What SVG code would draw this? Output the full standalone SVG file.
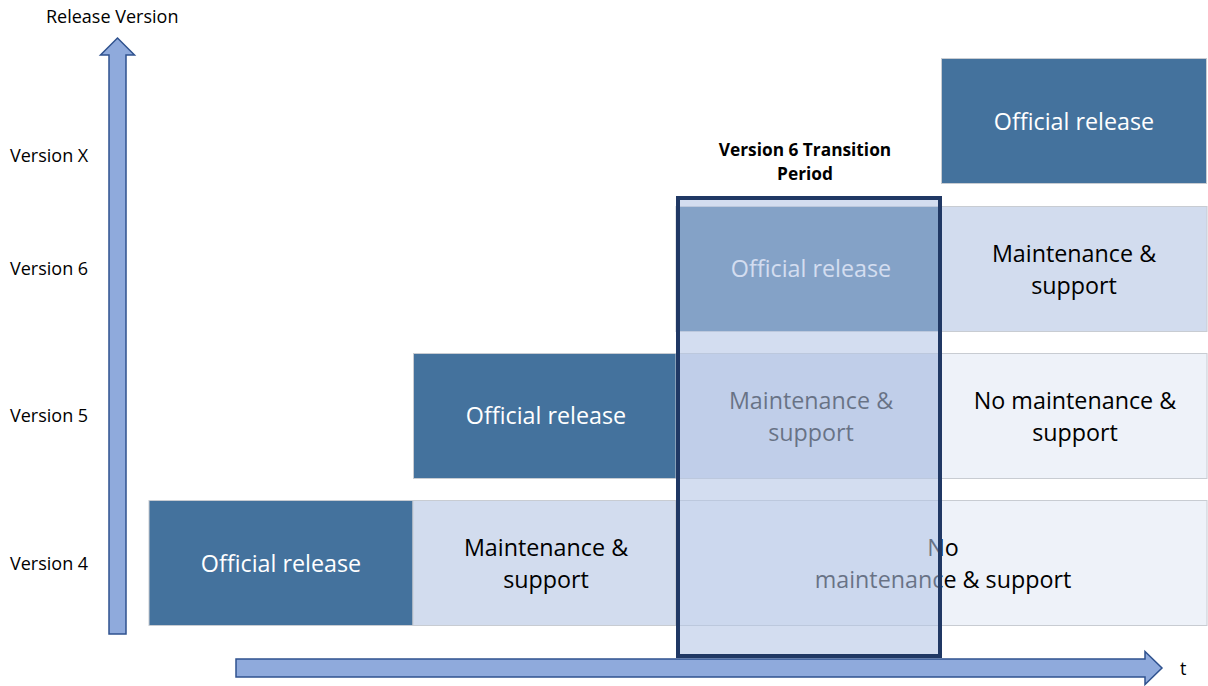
<svg xmlns="http://www.w3.org/2000/svg" width="1208" height="686" viewBox="0 0 1208 686">
<style>
.lbl{font-family:"Open Sans","Liberation Sans",sans-serif;font-size:18px;fill:#000}
.bt{font-family:"Open Sans","Liberation Sans",sans-serif;font-size:23.3px;text-anchor:middle}
.w{fill:#fff}
.k{fill:#000}
.dark{fill:#44729D;stroke:#C8CCD2;stroke-width:1}
.light{fill:#D2DCEE;stroke:#C8CCD2;stroke-width:1}
.pale{fill:#EEF2F9;stroke:#C8CCD2;stroke-width:1}
.arrow{fill:#8FAADC;stroke:#2F528F;stroke-width:1.5}
.title{font-family:"Open Sans","Liberation Sans",sans-serif;font-size:17.3px;font-weight:bold;text-anchor:middle;fill:#000}
</style>
<rect width="1208" height="686" fill="#fff"/>
<g id="axes">
<polygon class="arrow" points="109,634 109,55 100.5,55 117.5,38 134.5,55 126,55 126,634"/>
<polygon class="arrow" points="236,659 1145,659 1145,651.5 1162,668 1145,684.5 1145,677 236,677"/>
<text class="lbl" x="46" y="23">Release Version</text>
<text class="lbl" x="1180" y="675">t</text>
</g>
<g id="ylabels">
<text class="lbl" x="10" y="162">Version X</text>
<text class="lbl" x="10" y="275">Version 6</text>
<text class="lbl" x="10" y="422">Version 5</text>
<text class="lbl" x="10" y="570">Version 4</text>
</g>
<g id="v4">
<rect class="dark" x="149" y="500.5" width="264" height="125"/>
<text class="bt w" x="281" y="572">Official release</text>
<rect class="light" x="413" y="500.5" width="263" height="125"/>
<text class="bt k" x="546" y="556">Maintenance &amp;</text>
<text class="bt k" x="546" y="588">support</text>
<rect class="pale" x="676" y="500.5" width="531" height="125"/>
<text class="bt k" x="943" y="556">No</text>
<text class="bt k" x="943" y="588">maintenance &amp; support</text>
</g>
<g id="v5">
<rect class="dark" x="413.5" y="353.5" width="263" height="125"/>
<text class="bt w" x="546" y="424">Official release</text>
<rect class="light" x="676" y="353.5" width="265" height="125"/>
<text class="bt k" x="811" y="409">Maintenance &amp;</text>
<text class="bt k" x="811" y="441">support</text>
<rect class="pale" x="941" y="353.5" width="266" height="125"/>
<text class="bt k" x="1075" y="409">No maintenance &amp;</text>
<text class="bt k" x="1075" y="441">support</text>
</g>
<g id="v6">
<rect class="dark" x="676" y="206.5" width="265" height="125"/>
<text class="bt w" x="811" y="277">Official release</text>
<rect class="light" x="941" y="206.5" width="266" height="125"/>
<text class="bt k" x="1074" y="262">Maintenance &amp;</text>
<text class="bt k" x="1074" y="294">support</text>
</g>
<g id="vx">
<rect class="dark" x="941.5" y="58.5" width="265" height="125"/>
<text class="bt w" x="1074" y="130">Official release</text>
</g>
<g id="transition">
<text class="title" x="805" y="156">Version 6 Transition</text>
<text class="title" x="805" y="180">Period</text>
<rect x="678" y="198" width="262" height="458" fill="#B4C5E5" fill-opacity="0.58" stroke="#203864" stroke-width="4"/>
</g>
</svg>
